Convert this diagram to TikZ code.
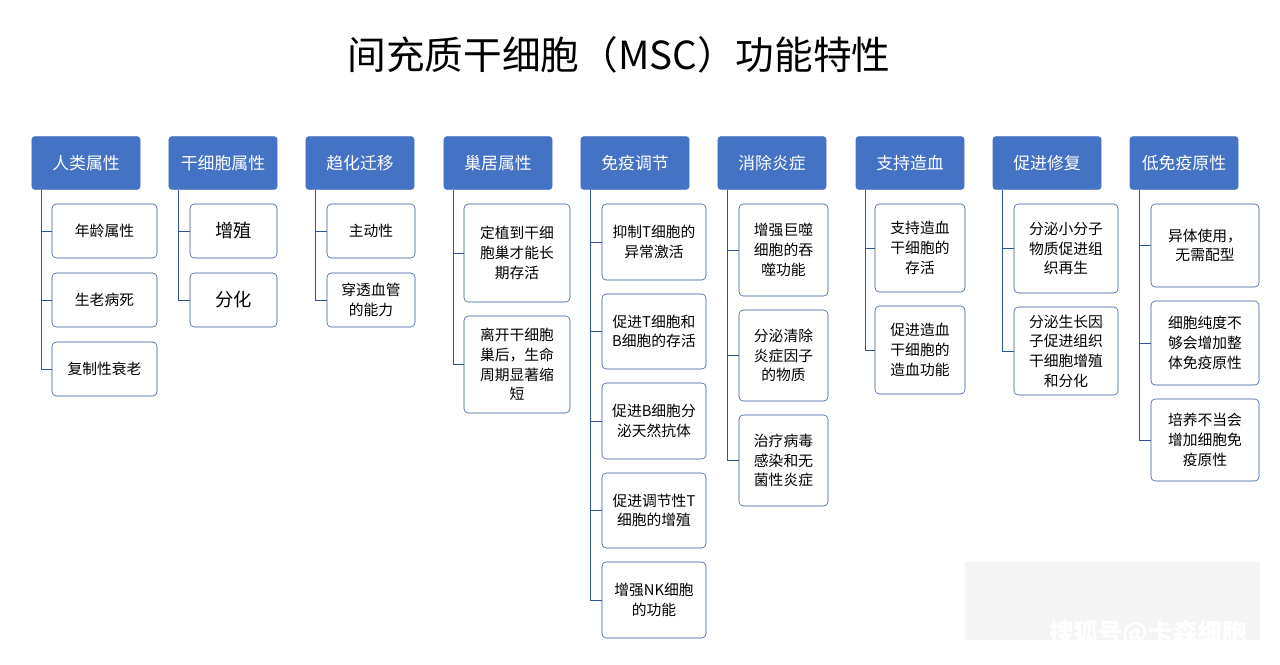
\documentclass[tikz,border=0pt]{standalone}
\usepackage{fontspec}
\setmainfont{Noto Sans CJK SC}
\definecolor{hdrblue}{HTML}{4472C4}
\definecolor{edgeblue}{HTML}{2F5597}
\tikzset{
  hdr/.style={fill=hdrblue, draw=hdrblue, rounded corners=2pt, text=white, minimum width=2.7cm, minimum height=1.32cm, font=\fontsize{12}{14}\selectfont, inner sep=0pt},
  leaf/.style={draw=edgeblue, rounded corners=3pt, fill=white, align=center, font=\fontsize{10.5}{14}\selectfont, inner sep=1pt},
  tree/.style={draw=edgeblue, line width=0.5pt}
}
\newcommand{\leafbox}[6]{% name, x1, y1, x2, y2, text
  \node[leaf, minimum width={(#4-#2)*0.025cm}, minimum height={(#5-#3)*0.025cm}] (#1) at ({(#2+#4)/2},{(#3+#5)/2}) {#6};}
\begin{document}
\begin{tikzpicture}[x=0.025cm, y=-0.025cm]
  \useasboundingbox (0,0) rectangle (1280,664);
  \node[font=\fontsize{27.5}{32}\selectfont] (title) at (619,55) {间充质干细胞（MSC）功能特性};
  % headers
  \foreach \n/\x/\t in {1/86/人类属性, 2/223/干细胞属性, 3/360/趋化迁移, 4/498/巢居属性, 5/635/免疫调节, 6/772/消除炎症, 7/910/支持造血, 8/1047/促进修复, 9/1184/低免疫原性}
    \node[hdr] (h\n) at (\x,163) {\t};
  % leaves
  \leafbox{c1a}{52}{204}{157}{258}{年龄属性}
  \leafbox{c1b}{52}{273}{157}{327}{生老病死}
  \leafbox{c1c}{52}{342}{157}{396}{复制性衰老}
  \leafbox{c2a}{190}{204}{277}{258}{\fontsize{13}{16}\selectfont 增殖}
  \leafbox{c2b}{190}{273}{277}{327}{\fontsize{13}{16}\selectfont 分化}
  \leafbox{c3a}{327}{204}{415}{258}{主动性}
  \leafbox{c3b}{327}{273}{415}{327}{穿透血管\\的能力}
  \leafbox{c4a}{464}{204}{570}{302}{定植到干细\\胞巢才能长\\期存活}
  \leafbox{c4b}{464}{316}{570}{413}{离开干细胞\\巢后，生命\\周期显著缩\\短}
  \leafbox{c5a}{602}{204}{706}{280}{抑制T细胞的\\异常激活}
  \leafbox{c5b}{602}{294}{706}{369}{促进T细胞和\\B细胞的存活}
  \leafbox{c5c}{602}{383}{706}{459}{促进B细胞分\\泌天然抗体}
  \leafbox{c5d}{602}{473}{706}{548}{促进调节性T\\细胞的增殖}
  \leafbox{c5e}{602}{562}{706}{638}{增强NK细胞\\的功能}
  \leafbox{c6a}{739}{204}{828}{296}{增强巨噬\\细胞的吞\\噬功能}
  \leafbox{c6b}{739}{310}{828}{401}{分泌清除\\炎症因子\\的物质}
  \leafbox{c6c}{739}{415}{828}{506}{治疗病毒\\感染和无\\菌性炎症}
  \leafbox{c7a}{875}{204}{965}{292}{支持造血\\干细胞的\\存活}
  \leafbox{c7b}{875}{306}{965}{394}{促进造血\\干细胞的\\造血功能}
  \leafbox{c8a}{1014}{204}{1118}{293}{分泌小分子\\物质促进组\\织再生}
  \leafbox{c8b}{1014}{307}{1118}{395}{分泌生长因\\子促进组织\\干细胞增殖\\和分化}
  \leafbox{c9a}{1151}{204}{1259}{287}{异体使用，\\无需配型}
  \leafbox{c9b}{1151}{301}{1259}{385}{细胞纯度不\\够会增加整\\体免疫原性}
  \leafbox{c9c}{1151}{399}{1259}{481}{培养不当会\\增加细胞免\\疫原性}
  % connectors
  \foreach \h/\cs in {1/{c1a,c1b,c1c}, 2/{c2a,c2b}, 3/{c3a,c3b}, 4/{c4a,c4b}, 5/{c5a,c5b,c5c,c5d,c5e}, 6/{c6a,c6b,c6c}, 7/{c7a,c7b}, 8/{c8a,c8b}, 9/{c9a,c9b,c9c}}
    \foreach \c in \cs
      \draw[tree] ([xshift=0.25cm]h\h.south west) |- (\c.west);
  % watermark
  \fill[black!4] (965,562) rectangle (1260,640);
  \node[text=white, font=\fontsize{17.5}{20}\selectfont\bfseries, anchor=east] (mark) at (1252,633) {搜狐号@卡森细胞};
\end{tikzpicture}
\end{document}
